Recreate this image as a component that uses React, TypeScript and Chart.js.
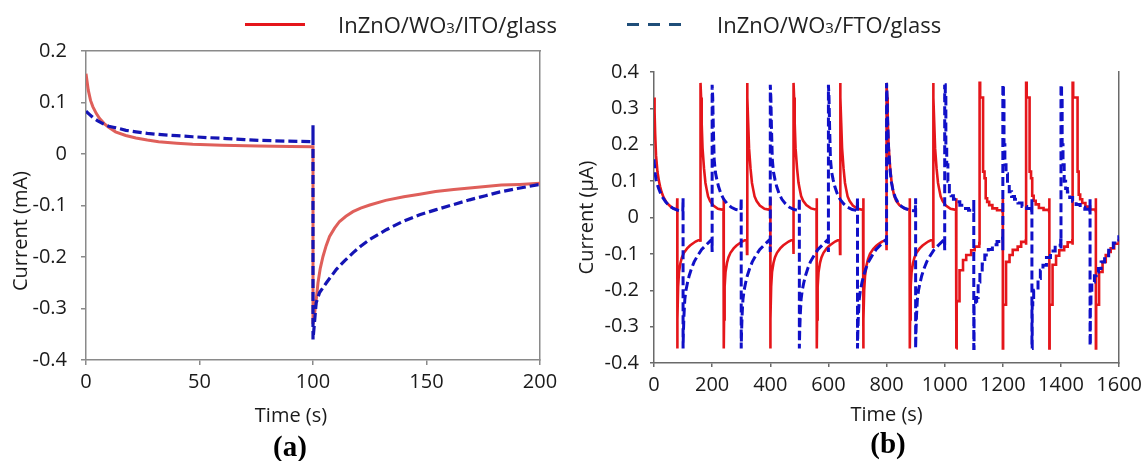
import React, { useEffect, useRef } from "react";
import { Chart, registerables } from "chart.js";

Chart.register(...registerables);

const FONT = "'Open Sans', 'Noto Sans', 'DejaVu Sans', sans-serif";
const SERIF = "'Liberation Serif', 'DejaVu Serif', serif";

// ---------------- Panel (a) : Current (mA) vs Time (s) ----------------
const xTicksA = [0, 50, 100, 150, 200];
const yTicksA = [-0.4, -0.3, -0.2, -0.1, 0, 0.1, 0.2];

const timeA_ITO = [0, 1, 2, 3, 4.5, 6, 8, 10, 13, 17.5, 22, 27, 32, 40, 47, 60, 76, 90, 100, 100, 100.7, 101.5, 102.2, 103.2, 104.4, 105.8, 107.3, 109.5, 111.7, 114.5, 117.6, 121, 125, 132, 140, 147, 154, 162, 169, 176, 183, 191, 200];
const currentA_ITO = [0.156, 0.124, 0.104, 0.092, 0.079, 0.069, 0.059, 0.052, 0.043, 0.036, 0.031, 0.027, 0.024, 0.021, 0.019, 0.017, 0.0155, 0.0145, 0.014, -0.33, -0.31, -0.28, -0.25, -0.222, -0.199, -0.178, -0.16, -0.144, -0.131, -0.121, -0.112, -0.105, -0.099, -0.09, -0.083, -0.078, -0.073, -0.069, -0.066, -0.063, -0.06, -0.059, -0.057];

const timeA_FTO = [0, 1.5, 3, 5, 7.4, 10, 12, 15, 17.6, 22, 27, 32, 40, 47, 55, 62, 70, 76, 88, 100, 100, 100, 100.6, 101.4, 102.9, 105.9, 110.3, 114, 117.6, 121, 125, 132.3, 139.6, 147, 154.3, 162, 169, 176, 182, 190, 200];
const currentA_FTO = [0.083, 0.077, 0.071, 0.065, 0.059, 0.054, 0.052, 0.049, 0.046, 0.043, 0.04, 0.038, 0.0355, 0.0335, 0.0315, 0.03, 0.028, 0.0265, 0.025, 0.024, 0.056, -0.36, -0.33, -0.289, -0.269, -0.25, -0.224, -0.207, -0.192, -0.179, -0.166, -0.147, -0.131, -0.118, -0.108, -0.098, -0.089, -0.081, -0.074, -0.067, -0.059];

// ---------------- Panel (b) : Current (µA) vs Time (s) ----------------
const xTicksB = [0, 200, 400, 600, 800, 1000, 1200, 1400, 1600];
const yTicksB = [-0.4, -0.3, -0.2, -0.1, 0, 0.1, 0.2, 0.3, 0.4];
const endTimeB = 1600;

// ITO (red)
const itoRiseTimes = [0, 160, 320, 480, 640, 800, 960, 1120, 1280, 1440];
const itoFallTimes = [80, 240, 400, 560, 720, 880, 1040, 1200, 1360, 1520];
const itoSteppedFrom = 1040;
const itoRiseOffsets = [0, 2, 4, 7, 12, 17, 21, 26, 33, 44, 60, 79];
const itoRiseCurves = [
  [0.33, 0.29, 0.23, 0.17, 0.125, 0.1, 0.085, 0.07, 0.055, 0.04, 0.028, 0.021],
  [0.37, 0.33, 0.26, 0.19, 0.135, 0.095, 0.078, 0.058, 0.045, 0.033, 0.024, 0.021],
  [0.37, 0.33, 0.26, 0.19, 0.135, 0.095, 0.078, 0.058, 0.045, 0.033, 0.024, 0.021],
  [0.37, 0.33, 0.26, 0.19, 0.136, 0.096, 0.079, 0.059, 0.046, 0.034, 0.025, 0.021],
  [0.37, 0.33, 0.26, 0.19, 0.135, 0.095, 0.078, 0.058, 0.045, 0.033, 0.024, 0.021],
  [0.37, 0.33, 0.27, 0.2, 0.14, 0.1, 0.08, 0.06, 0.046, 0.034, 0.025, 0.021],
  [0.37, 0.33, 0.26, 0.19, 0.135, 0.095, 0.078, 0.058, 0.045, 0.033, 0.024, 0.021],
  [0.37, 0.33, 0.33, 0.33, 0.126, 0.108, 0.053, 0.043, 0.034, 0.025, 0.02, 0.016],
  [0.37, 0.33, 0.33, 0.33, 0.126, 0.108, 0.06, 0.046, 0.036, 0.026, 0.021, 0.017],
  [0.37, 0.33, 0.33, 0.33, 0.33, 0.126, 0.063, 0.05, 0.04, 0.03, 0.022, 0.018],
];
const itoRiseDips = [null, -0.067, -0.1, -0.1, -0.1, -0.09, -0.08, -0.075, -0.075, -0.075];
const itoFallOffsets = [0, 1, 3, 6, 11, 16, 23, 34, 44, 51, 63, 79];
const itoFallCurves = [
  [-0.36, -0.28, -0.19, -0.15, -0.125, -0.11, -0.097, -0.085, -0.077, -0.073, -0.066, -0.06],
  [-0.36, -0.28, -0.19, -0.15, -0.125, -0.11, -0.097, -0.085, -0.077, -0.073, -0.066, -0.06],
  [-0.36, -0.28, -0.19, -0.15, -0.125, -0.11, -0.097, -0.085, -0.077, -0.073, -0.066, -0.06],
  [-0.36, -0.28, -0.19, -0.15, -0.125, -0.11, -0.097, -0.085, -0.077, -0.073, -0.066, -0.06],
  [-0.36, -0.28, -0.2, -0.16, -0.132, -0.115, -0.1, -0.087, -0.078, -0.074, -0.067, -0.061],
  [-0.36, -0.28, -0.19, -0.15, -0.125, -0.11, -0.097, -0.085, -0.077, -0.073, -0.066, -0.06],
  [-0.36, -0.23, -0.23, -0.23, -0.145, -0.145, -0.117, -0.103, -0.103, -0.09, -0.08, -0.07],
  [-0.36, -0.24, -0.24, -0.24, -0.122, -0.122, -0.103, -0.089, -0.089, -0.08, -0.067, -0.063],
  [-0.36, -0.24, -0.24, -0.24, -0.13, -0.13, -0.105, -0.09, -0.09, -0.08, -0.068, -0.063],
  [-0.36, -0.24, -0.24, -0.24, -0.15, -0.15, -0.122, -0.103, -0.095, -0.085, -0.072, -0.063],
];
const itoFallTops = [0.053, 0.053, 0.053, 0.053, 0.053, 0.053, 0.053, 0.053, 0.053, 0.053];

// FTO (blue)
const ftoRiseTimes = [0, 200, 400, 600, 800, 1000, 1200, 1400];
const ftoFallTimes = [100, 300, 500, 700, 900, 1100, 1300, 1500];
const ftoSteppedFrom = 1000;
const ftoRiseOffsets = [0, 2, 4, 7, 11, 16, 22, 30, 40, 52, 66, 82, 99];
const ftoRiseCurves = [
  [0.16, 0.14, 0.12, 0.105, 0.092, 0.08, 0.068, 0.055, 0.043, 0.033, 0.025, 0.02, 0.017],
  [0.365, 0.33, 0.25, 0.16, 0.125, 0.105, 0.085, 0.066, 0.05, 0.038, 0.028, 0.022, 0.019],
  [0.365, 0.33, 0.25, 0.16, 0.125, 0.105, 0.085, 0.066, 0.05, 0.038, 0.028, 0.022, 0.019],
  [0.365, 0.33, 0.25, 0.16, 0.125, 0.105, 0.085, 0.066, 0.05, 0.038, 0.028, 0.022, 0.019],
  [0.37, 0.33, 0.26, 0.19, 0.14, 0.1, 0.075, 0.055, 0.04, 0.03, 0.024, 0.02, 0.018],
  [0.365, 0.33, 0.2, 0.145, 0.1, 0.071, 0.06, 0.05, 0.043, 0.034, 0.025, 0.02, 0.016],
  [0.365, 0.33, 0.2, 0.145, 0.12, 0.09, 0.071, 0.058, 0.05, 0.04, 0.03, 0.025, 0.02],
  [0.365, 0.33, 0.2, 0.145, 0.1, 0.08, 0.07, 0.055, 0.045, 0.036, 0.028, 0.023, 0.02],
];
const ftoRiseDips = [null, -0.095, -0.095, -0.095, -0.08, -0.09, -0.09, -0.085];
const ftoFallOffsets = [0, 1, 3, 6, 10, 15, 21, 29, 38, 50, 64, 80, 99];
const ftoFallCurves = [
  [-0.36, -0.32, -0.27, -0.225, -0.2, -0.18, -0.16, -0.14, -0.122, -0.105, -0.088, -0.075, -0.06],
  [-0.36, -0.32, -0.27, -0.225, -0.2, -0.18, -0.16, -0.14, -0.122, -0.105, -0.088, -0.075, -0.06],
  [-0.36, -0.32, -0.27, -0.225, -0.2, -0.18, -0.16, -0.14, -0.122, -0.105, -0.088, -0.075, -0.06],
  [-0.36, -0.32, -0.27, -0.225, -0.2, -0.18, -0.16, -0.14, -0.122, -0.105, -0.088, -0.075, -0.06],
  [-0.36, -0.32, -0.27, -0.225, -0.2, -0.18, -0.16, -0.14, -0.122, -0.105, -0.088, -0.075, -0.06],
  [-0.36, -0.24, -0.24, -0.23, -0.22, -0.177, -0.15, -0.128, -0.103, -0.088, -0.075, -0.066, -0.057],
  [-0.36, -0.24, -0.22, -0.2, -0.2, -0.2, -0.168, -0.145, -0.131, -0.11, -0.092, -0.076, -0.062],
  [-0.352, -0.24, -0.2, -0.18, -0.177, -0.16, -0.15, -0.14, -0.122, -0.105, -0.09, -0.07, -0.053],
];
const ftoFallTops = [0.053, 0.053, 0.053, 0.053, 0.053, 0.05, 0.05, 0.05];

// ---------------- colours ----------------
const RED_A = "#df5f5a";
const BLUE_A = "#1414b4";
const RED_B = "#e5161b";
const BLUE_B = "#1010c8";
const AXIS_A = "#8a8a8a";
const AXIS_B = "#6a6a6a";
const TEXT = "#1a1a1a";

type Pt = { x: number; y: number };

function zip(xs: number[], ys: number[]): Pt[] {
  return xs.map((x, i) => ({ x, y: ys[i] }));
}

function buildCycles(
  riseTimes: number[], riseOffsets: number[], riseCurves: number[][], riseDips: (number | null)[],
  fallTimes: number[], fallOffsets: number[], fallCurves: number[][], fallTops: number[],
  endTime: number, stepFrom: number
) {
  const events: { t: number; rise: boolean; i: number }[] = [];
  riseTimes.forEach((t, i) => events.push({ t, rise: true, i }));
  fallTimes.forEach((t, i) => events.push({ t, rise: false, i }));
  events.sort((a, b) => a.t - b.t);
  const pts: Pt[] = [];
  let split = -1;
  for (const ev of events) {
    const offsets = ev.rise ? riseOffsets : fallOffsets;
    const curve = ev.rise ? riseCurves[ev.i] : fallCurves[ev.i];
    if (pts.length) {
      const pre = ev.rise ? riseDips[ev.i] : fallTops[ev.i];
      if (pre !== null && pre !== undefined) pts.push({ x: ev.t, y: pre });
    }
    if (ev.t === stepFrom) split = pts.length;
    offsets.forEach((o, k) => pts.push({ x: ev.t + o, y: curve[k] }));
  }
  pts.push({ x: endTime, y: pts[pts.length - 1].y });
  return { smooth: pts.slice(0, split + 1), stepped: pts.slice(split) };
}

function fmt(v: number) {
  const r = Math.round(v * 10) / 10;
  return r === 0 ? "0" : String(r);
}

function frameAxis(position: string, color: string) {
  return {
    type: "linear",
    position,
    display: true,
    ticks: { display: false },
    grid: { display: false, drawTicks: false },
    border: { display: true, color, width: 1.5 },
    afterFit: (ax: any) => {
      if (position === "top" || position === "bottom") ax.height = 0;
      else ax.width = 0;
    },
  };
}

function mainAxes(opts: {
  xMin: number; xMax: number; xTicks: number[]; xHeight: number; xTickLen: number; xPad: number;
  xTitle: string | null; xTitlePadBottom: number;
  yMin: number; yMax: number; yTicks: number[]; yWidth: number; yTickLen: number; yPad: number;
  yTitle: string | null; yTitlePadTop: number; color: string;
}) {
  return {
    x: {
      type: "linear",
      position: "bottom",
      min: opts.xMin,
      max: opts.xMax,
      afterBuildTicks: (ax: any) => { ax.ticks = opts.xTicks.map((v) => ({ value: v })); },
      afterFit: (ax: any) => { ax.height = opts.xHeight; },
      ticks: {
        color: TEXT, font: { family: FONT, size: 20 }, padding: opts.xPad,
        maxRotation: 0, minRotation: 0, autoSkip: false,
        callback: (v: number) => String(v),
      },
      grid: { display: true, drawOnChartArea: false, drawTicks: true, tickLength: opts.xTickLen, color: opts.color, lineWidth: 1.5 },
      border: { display: true, color: opts.color, width: 1.5 },
      title: opts.xTitle
        ? { display: true, text: opts.xTitle, color: TEXT, font: { family: FONT, size: 20 }, padding: { top: 0, bottom: opts.xTitlePadBottom } }
        : { display: false },
    },
    y: {
      type: "linear",
      position: "left",
      min: opts.yMin,
      max: opts.yMax,
      afterBuildTicks: (ax: any) => { ax.ticks = opts.yTicks.map((v) => ({ value: v })); },
      afterFit: (ax: any) => { ax.width = opts.yWidth; },
      ticks: { color: TEXT, font: { family: FONT, size: 20 }, padding: opts.yPad, callback: (v: number) => fmt(v) },
      grid: { display: true, drawOnChartArea: false, drawTicks: true, tickLength: opts.yTickLen, color: opts.color, lineWidth: 1.5 },
      border: { display: true, color: opts.color, width: 1.5 },
      title: opts.yTitle
        ? { display: true, text: opts.yTitle, color: TEXT, font: { family: FONT, size: 20 }, padding: { top: opts.yTitlePadTop, bottom: 0 } }
        : { display: false },
    },
  };
}

export default function App() {
  const refA = useRef<HTMLCanvasElement>(null);
  const refB = useRef<HTMLCanvasElement>(null);

  useEffect(() => {
    const ito = buildCycles(itoRiseTimes, itoRiseOffsets, itoRiseCurves, itoRiseDips, itoFallTimes, itoFallOffsets, itoFallCurves, itoFallTops, endTimeB, itoSteppedFrom);
    const fto = buildCycles(ftoRiseTimes, ftoRiseOffsets, ftoRiseCurves, ftoRiseDips, ftoFallTimes, ftoFallOffsets, ftoFallCurves, ftoFallTops, endTimeB, ftoSteppedFrom);

    const chartA = new Chart(refA.current as HTMLCanvasElement, {
      type: "line",
      data: {
        datasets: [
          { label: "InZnO/WO3/FTO/glass", data: zip(timeA_FTO, currentA_FTO), borderColor: BLUE_A, borderWidth: 3.2, borderDash: [9, 4], pointRadius: 0, fill: false, order: 0 },
          { label: "InZnO/WO3/ITO/glass", data: zip(timeA_ITO, currentA_ITO), borderColor: RED_A, borderWidth: 3, pointRadius: 0, fill: false, order: 1 },
        ],
      },
      options: {
        animation: false,
        responsive: false,
        devicePixelRatio: 1,
        events: [],
        layout: { padding: { left: 0, top: 51, right: 30, bottom: 0 } },
        plugins: { legend: { display: false }, tooltip: { enabled: false } },
        scales: {
          ...mainAxes({
            xMin: 0, xMax: 200, xTicks: xTicksA, xHeight: 101, xTickLen: 5, xPad: 5, xTitle: null, xTitlePadBottom: 0,
            yMin: -0.4, yMax: 0.2, yTicks: yTicksA, yWidth: 86, yTickLen: 5, yPad: 14,
            yTitle: null, yTitlePadTop: 0, color: AXIS_A,
          }),
          xTop: frameAxis("top", AXIS_A),
          yRight: frameAxis("right", AXIS_A),
        },
      } as any,
    });

    const chartB = new Chart(refB.current as HTMLCanvasElement, {
      type: "line",
      data: {
        datasets: [
          { label: "InZnO/WO3/FTO/glass", data: fto.smooth, borderColor: BLUE_B, borderWidth: 3, borderDash: [9, 4], pointRadius: 0, fill: false, order: 0 },
          { label: "InZnO/WO3/FTO/glass (stepped)", data: fto.stepped, stepped: true, borderColor: BLUE_B, borderWidth: 3, borderDash: [9, 4], pointRadius: 0, fill: false, order: 0 },
          { label: "InZnO/WO3/ITO/glass", data: ito.smooth, borderColor: RED_B, borderWidth: 2.6, pointRadius: 0, fill: false, order: 1 },
          { label: "InZnO/WO3/ITO/glass (stepped)", data: ito.stepped, stepped: true, borderColor: RED_B, borderWidth: 2.6, pointRadius: 0, fill: false, order: 1 },
        ],
      },
      options: {
        animation: false,
        responsive: false,
        devicePixelRatio: 1,
        events: [],
        layout: { padding: { left: 0, top: 72, right: 28, bottom: 0 } },
        plugins: { legend: { display: false }, tooltip: { enabled: false } },
        scales: {
          ...mainAxes({
            xMin: 0, xMax: 1600, xTicks: xTicksB, xHeight: 98, xTickLen: 4, xPad: 6, xTitle: "Time (s)", xTitlePadBottom: 34,
            yMin: -0.4, yMax: 0.4, yTicks: yTicksB, yWidth: 84, yTickLen: 4, yPad: 11,
            yTitle: "Current (µA)", yTitlePadTop: 5, color: AXIS_B,
          }),
          yRight: frameAxis("right", AXIS_B),
        },
      } as any,
    });

    return () => {
      chartA.destroy();
      chartB.destroy();
    };
  }, []);

  const legendText: React.CSSProperties = {
    position: "absolute", top: 9, font: `22px ${FONT}`, lineHeight: "30px", color: "#222", whiteSpace: "nowrap",
  };
  const sub: React.CSSProperties = { fontSize: "68%" };

  return (
    <div style={{ position: "fixed", left: 0, top: 0, width: 1148, height: 461, background: "#fff", overflow: "hidden" }}>
      <canvas ref={refA} width={570} height={461} style={{ position: "absolute", left: 0, top: 0, width: 570, height: 461 }} />
      <canvas ref={refB} width={578} height={461} style={{ position: "absolute", left: 570, top: 0, width: 578, height: 461 }} />

      {/* legend */}
      <div style={{ position: "absolute", left: 245, top: 22.5, width: 60, height: 3, background: RED_B }} />
      <div style={{ ...legendText, left: 338 }}>InZnO/WO<span style={sub}>3</span>/ITO/glass</div>
      <div
        style={{
          position: "absolute", left: 627, top: 22.5, width: 54, height: 3,
          background: "repeating-linear-gradient(to right, #1f4e79 0px, #1f4e79 12px, transparent 12px, transparent 21px)",
        }}
      />
      <div style={{ ...legendText, left: 717 }}>InZnO/WO<span style={sub}>3</span>/FTO/glass</div>

      {/* panel (a) axis titles and panel labels */}
      <div
        style={{
          position: "absolute", left: 20, top: 231, transform: "translate(-50%, -50%) rotate(-90deg)",
          font: `20px ${FONT}`, lineHeight: "24px", color: TEXT, whiteSpace: "nowrap",
        }}
      >
        Current (mA)
      </div>
      <div style={{ position: "absolute", left: 191, width: 200, top: 403, textAlign: "center", font: `20px ${FONT}`, lineHeight: "24px", color: TEXT }}>Time (s)</div>
      <div style={{ position: "absolute", left: 240, width: 100, top: 430, textAlign: "center", font: `bold 29px ${SERIF}`, lineHeight: "32px", color: "#000" }}>(a)</div>
      <div style={{ position: "absolute", left: 838, width: 100, top: 427, textAlign: "center", font: `bold 29px ${SERIF}`, lineHeight: "32px", color: "#000" }}>(b)</div>
    </div>
  );
}
